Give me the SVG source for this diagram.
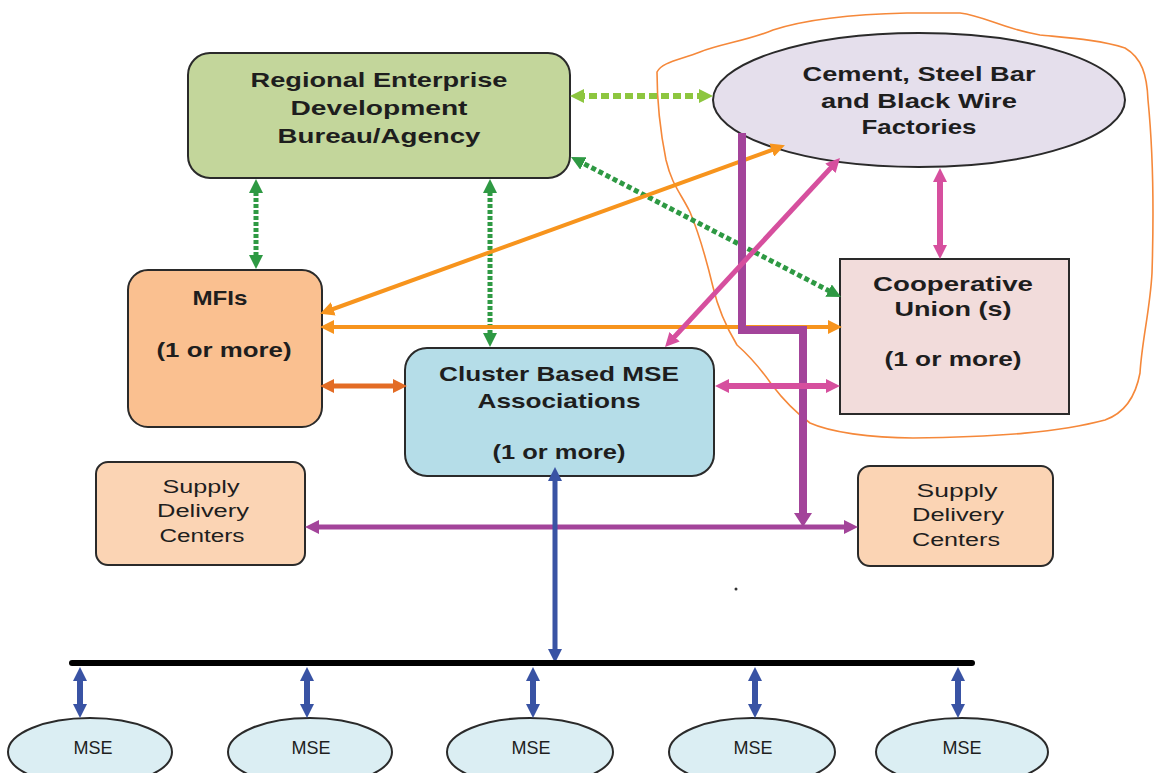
<svg xmlns="http://www.w3.org/2000/svg" width="1156" height="773" viewBox="0 0 1156 773">
<style>
.node{stroke:#2a2a2a;stroke-width:2}
.t{font-family:"Liberation Sans",Arial,sans-serif;font-weight:bold;font-size:21px;fill:#1e1e1e;text-anchor:middle}
.s{font-family:"Liberation Sans",Arial,sans-serif;font-size:18px;fill:#1e1e1e;text-anchor:middle}
.c{fill:none}
</style>
<defs>
<marker id="mg" viewBox="0 0 14 14" refX="7" refY="7" markerWidth="14" markerHeight="14" markerUnits="userSpaceOnUse" orient="auto-start-reverse"><path d="M0,0 L14,7 L0,14 z" fill="#2e9943"/></marker>
<marker id="mlg" viewBox="0 0 14 14" refX="7" refY="7" markerWidth="14" markerHeight="14" markerUnits="userSpaceOnUse" orient="auto-start-reverse"><path d="M0,0 L14,7 L0,14 z" fill="#8dc63f"/></marker>
<marker id="mo" viewBox="0 0 14 14" refX="6" refY="7" markerWidth="14" markerHeight="14" markerUnits="userSpaceOnUse" orient="auto-start-reverse"><path d="M0,0 L14,7 L0,14 z" fill="#f7941d"/></marker>
<marker id="mdo" viewBox="0 0 14 14" refX="6" refY="7" markerWidth="14" markerHeight="14" markerUnits="userSpaceOnUse" orient="auto-start-reverse"><path d="M0,0 L14,7 L0,14 z" fill="#e36c25"/></marker>
<marker id="mp" viewBox="0 0 14 14" refX="7" refY="7" markerWidth="14" markerHeight="14" markerUnits="userSpaceOnUse" orient="auto-start-reverse"><path d="M0,0 L14,7 L0,14 z" fill="#d64f9e"/></marker>
<marker id="mpu" viewBox="0 0 14 14" refX="7" refY="7" markerWidth="14" markerHeight="14" markerUnits="userSpaceOnUse" orient="auto-start-reverse"><path d="M0,0 L14,7 L0,14 z" fill="#a3449a"/></marker>
<marker id="mpub" viewBox="0 0 14 18" refX="7" refY="9" markerWidth="14" markerHeight="18" markerUnits="userSpaceOnUse" orient="auto-start-reverse"><path d="M0,0 L14,9 L0,18 z" fill="#a3449a"/></marker>
<marker id="mb" viewBox="0 0 14 14" refX="7" refY="7" markerWidth="14" markerHeight="14" markerUnits="userSpaceOnUse" orient="auto-start-reverse"><path d="M0,0 L14,7 L0,14 z" fill="#3953a4"/></marker>
</defs>
<rect width="1156" height="773" fill="#ffffff"/>

<path id="outline" d="M657,72 C662,62 680,60 700,52 C720,44 750,40 773,30 C810,18 860,14 907,13 L960,13 C985,16 1000,28 1040,35 C1070,38 1100,40 1125,48 C1142,58 1147,75 1148,100 C1153,150 1154,210 1152,273 C1150,310 1142,340 1140,373 C1135,400 1122,414 1105,420 C1060,432 1000,437 913,438 C870,438 830,432 810,423 C795,412 785,402 772,385 C758,365 745,352 737,345 C722,320 716,300 713,287 C706,258 700,236 690,212 C680,192 672,185 666,160 C660,130 657,100 657,72 Z" fill="none" stroke="#f5883a" stroke-width="1.6"/>

<g id="n-redb"><rect class="node" x="188" y="53" width="382" height="125" rx="22" fill="#c3d69b"/>
<text class="t" x="379" y="87" textLength="257" lengthAdjust="spacingAndGlyphs">Regional Enterprise</text>
<text class="t" x="379" y="115" textLength="177" lengthAdjust="spacingAndGlyphs">Development</text>
<text class="t" x="379" y="143" textLength="203" lengthAdjust="spacingAndGlyphs">Bureau/Agency</text></g>

<g id="n-factories"><ellipse class="node" cx="919" cy="100" rx="206" ry="67" fill="#e5dfec"/>
<text class="t" x="919" y="81" textLength="233" lengthAdjust="spacingAndGlyphs">Cement, Steel Bar</text>
<text class="t" x="919" y="108" textLength="196" lengthAdjust="spacingAndGlyphs">and Black Wire</text>
<text class="t" x="919" y="134" textLength="115" lengthAdjust="spacingAndGlyphs">Factories</text></g>

<g id="n-coop"><rect class="node" x="840" y="259" width="229" height="155" fill="#f2dcdb"/>
<text class="t" x="953" y="291" textLength="160" lengthAdjust="spacingAndGlyphs">Cooperative</text>
<text class="t" x="953" y="316" textLength="117" lengthAdjust="spacingAndGlyphs">Union (s)</text>
<text class="t" x="953" y="366" textLength="137" lengthAdjust="spacingAndGlyphs">(1 or more)</text></g>

<g id="n-mfi"><rect class="node" x="128" y="270" width="194" height="157" rx="20" fill="#fac090"/>
<text class="t" x="220" y="305" textLength="55" lengthAdjust="spacingAndGlyphs">MFIs</text>
<text class="t" x="224" y="357" textLength="135" lengthAdjust="spacingAndGlyphs">(1 or more)</text></g>

<g id="n-cluster"><rect class="node" x="405" y="348" width="309" height="128" rx="22" fill="#b5dde8"/>
<text class="t" x="559" y="381" textLength="240" lengthAdjust="spacingAndGlyphs">Cluster Based MSE</text>
<text class="t" x="559" y="408" textLength="163" lengthAdjust="spacingAndGlyphs">Associations</text>
<text class="t" x="559" y="459" textLength="133" lengthAdjust="spacingAndGlyphs">(1 or more)</text></g>

<g id="n-sdc1"><rect class="node" x="96" y="462" width="209" height="103" rx="12" fill="#fbd4b4"/>
<text class="s" x="201" y="493" textLength="77" lengthAdjust="spacingAndGlyphs">Supply</text>
<text class="s" x="203" y="517" textLength="92" lengthAdjust="spacingAndGlyphs">Delivery</text>
<text class="s" x="202" y="542" textLength="85" lengthAdjust="spacingAndGlyphs">Centers</text></g>

<g id="n-sdc2"><rect class="node" x="858" y="466" width="195" height="100" rx="12" fill="#fbd4b4"/>
<text class="s" x="957" y="497" textLength="81" lengthAdjust="spacingAndGlyphs">Supply</text>
<text class="s" x="958" y="521" textLength="92" lengthAdjust="spacingAndGlyphs">Delivery</text>
<text class="s" x="956" y="546" textLength="88" lengthAdjust="spacingAndGlyphs">Centers</text></g>

<g id="n-mse1"><ellipse class="node" cx="90" cy="752" rx="82" ry="34" fill="#dbeef3"/><text class="s" x="93" y="754">MSE</text></g>
<g id="n-mse2"><ellipse class="node" cx="310" cy="752" rx="82" ry="34" fill="#dbeef3"/><text class="s" x="311" y="754">MSE</text></g>
<g id="n-mse3"><ellipse class="node" cx="530" cy="752" rx="83" ry="34" fill="#dbeef3"/><text class="s" x="531" y="754">MSE</text></g>
<g id="n-mse4"><ellipse class="node" cx="752" cy="752" rx="83" ry="34" fill="#dbeef3"/><text class="s" x="753" y="754">MSE</text></g>
<g id="n-mse5"><ellipse class="node" cx="962" cy="752" rx="86" ry="34" fill="#dbeef3"/><text class="s" x="962" y="754">MSE</text></g>

<g id="connectors" class="c">
<line x1="577" y1="96" x2="706" y2="96" stroke="#8dc63f" stroke-width="6" stroke-dasharray="8 4" marker-start="url(#mlg)" marker-end="url(#mlg)"/>
<line x1="256" y1="186" x2="256" y2="262" stroke="#2e9943" stroke-width="5" stroke-dasharray="4 2" marker-start="url(#mg)" marker-end="url(#mg)"/>
<line x1="490" y1="186" x2="490" y2="340" stroke="#2e9943" stroke-width="5" stroke-dasharray="4 2" marker-start="url(#mg)" marker-end="url(#mg)"/>
<line x1="577.2" y1="160.2" x2="834.8" y2="293.8" stroke="#2e9943" stroke-width="5" stroke-dasharray="5 3" marker-start="url(#mg)" marker-end="url(#mg)"/>
<line x1="777.4" y1="148" x2="327.6" y2="311" stroke="#f7941d" stroke-width="4" marker-start="url(#mo)" marker-end="url(#mo)"/>
<line x1="328" y1="327" x2="834" y2="327" stroke="#f7941d" stroke-width="4" marker-start="url(#mo)" marker-end="url(#mo)"/>
<line x1="328" y1="386" x2="399" y2="386" stroke="#e36c25" stroke-width="5" marker-start="url(#mdo)" marker-end="url(#mdo)"/>
<path d="M742,133 V330 H803 V520" stroke="#a3449a" stroke-width="8" marker-end="url(#mpub)"/>
<line x1="835.2" y1="163.1" x2="669.8" y2="341.9" stroke="#d64f9e" stroke-width="5" marker-start="url(#mp)" marker-end="url(#mp)"/>
<line x1="940" y1="175" x2="940" y2="252" stroke="#d64f9e" stroke-width="6" marker-start="url(#mp)" marker-end="url(#mp)"/>
<line x1="722" y1="386" x2="833" y2="386" stroke="#d64f9e" stroke-width="6" marker-start="url(#mp)" marker-end="url(#mp)"/>
<line x1="312" y1="527" x2="851" y2="527" stroke="#a3449a" stroke-width="5" marker-start="url(#mpu)" marker-end="url(#mpu)"/>
<line x1="555" y1="474" x2="555" y2="656" stroke="#3953a4" stroke-width="5" marker-start="url(#mb)" marker-end="url(#mb)"/>
<line x1="72" y1="663" x2="972" y2="663" stroke="#000" stroke-width="6" stroke-linecap="round"/>
<line x1="80" y1="674" x2="80" y2="711" stroke="#3953a4" stroke-width="6" marker-start="url(#mb)" marker-end="url(#mb)"/>
<line x1="307" y1="674" x2="307" y2="711" stroke="#3953a4" stroke-width="6" marker-start="url(#mb)" marker-end="url(#mb)"/>
<line x1="533" y1="674" x2="533" y2="711" stroke="#3953a4" stroke-width="6" marker-start="url(#mb)" marker-end="url(#mb)"/>
<line x1="755" y1="674" x2="755" y2="711" stroke="#3953a4" stroke-width="6" marker-start="url(#mb)" marker-end="url(#mb)"/>
<line x1="958" y1="674" x2="958" y2="711" stroke="#3953a4" stroke-width="6" marker-start="url(#mb)" marker-end="url(#mb)"/>
</g>
<circle cx="736" cy="589" r="1.5" fill="#333"/>
</svg>
